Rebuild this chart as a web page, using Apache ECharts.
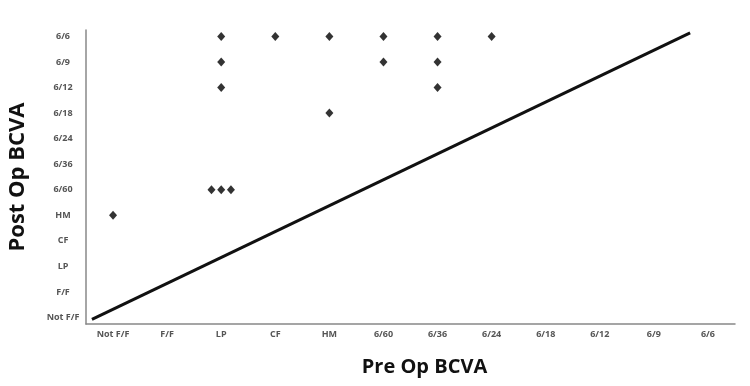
<!DOCTYPE html>
<html>
<head>
<meta charset="utf-8">
<script src="https://cdn.jsdelivr.net/npm/echarts@6/dist/echarts.min.js"></script>
<style>html,body{margin:0;padding:0;background:#fff}#c{width:750px;height:386px}</style>
</head>
<body>
<div id="c"></div>
<script>
var xLabels = ['Not F/F','F/F','LP','CF','HM','6/60','6/36','6/24','6/18','6/12','6/9','6/6'];
var yLabels = ['Not F/F','F/F','LP','CF','HM','6/60','6/36','6/24','6/18','6/12','6/9','6/6'];
// [pre-op index, post-op index]
var points = [
  [0, 4],
  [1.82, 5], [2, 5], [2.18, 5],
  [2, 9], [2, 10], [2, 11],
  [3, 11],
  [4, 8], [4, 11],
  [5, 10], [5, 11],
  [6, 9], [6, 10], [6, 11],
  [7, 11]
];
var refLine = [[-0.39, -0.07], [10.67, 11.14]];

function isInt(v){ return Math.abs(v - Math.round(v)) < 1e-6; }
var chart = echarts.init(document.getElementById('c'), null, {renderer:'canvas'});
var labStyle = {color:'#555', fontSize:9, fontWeight:'bold', fontFamily:'Open Sans'};
chart.setOption({
  animation:false,
  grid:{left:86, right:15, top:30, bottom:62, outerBoundsMode:'none', containLabel:false},
  xAxis:{
    type:'value', min:-0.5, max:11.5, interval:0.5,
    name:'Pre Op BCVA', nameLocation:'middle', nameGap:33,
    nameTextStyle:{color:'#111', fontSize:20, fontWeight:'bold', fontFamily:'Open Sans', padding:[0,0,0,28]},
    axisLine:{onZero:false, lineStyle:{color:'#888', width:1.5}},
    axisTick:{show:false}, splitLine:{show:false},
    axisLabel:Object.assign({margin:6, showMinLabel:true, showMaxLabel:true,
      formatter:function(v){ return isInt(v) ? (xLabels[Math.round(v)]||'') : ''; }}, labStyle)
  },
  yAxis:{
    type:'value', min:-0.25, max:11.25, interval:0.25,
    name:'Post Op BCVA', nameLocation:'middle', nameGap:57, nameRotate:90,
    nameTextStyle:{color:'#111', fontSize:22, fontWeight:'bold', fontFamily:'Open Sans'},
    axisLine:{show:true, onZero:false, lineStyle:{color:'#888', width:1.5}},
    axisTick:{show:false}, splitLine:{show:false},
    axisLabel:Object.assign({margin:23, align:'center',
      formatter:function(v){ return isInt(v) ? (yLabels[Math.round(v)]||'') : ''; }}, labStyle)
  },
  series:[
    {type:'line', data:refLine, symbol:'none', lineStyle:{color:'#111', width:3}, z:1},
    {type:'scatter', data:points, symbol:'diamond', symbolSize:[8,9], itemStyle:{color:'#000'}, z:2}
  ]
});
</script>
</body>
</html>
